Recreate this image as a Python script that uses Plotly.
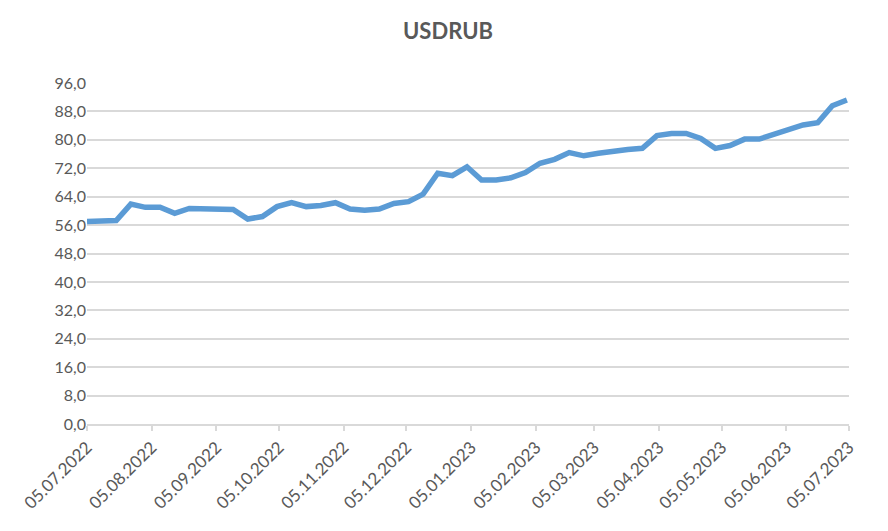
import pandas as pd
import plotly.graph_objects as go

# Weekly observation dates (x categories)
dates = pd.date_range("2022-07-05", periods=53, freq="7D")

usdrub = [57.0, 57.2, 57.3, 61.9, 61.0, 61.0, 59.3, 60.7, 60.7, 60.7,
          60.4, 57.7, 58.4, 61.2, 62.3, 61.2, 61.5, 62.3, 60.5, 60.2,
          60.5, 62.1, 62.6, 64.7, 70.6, 69.9, 72.4, 68.7, 68.7, 69.3,
          70.8, 73.4, 74.5, 76.4, 75.5, 76.2, 76.9, 77.3, 77.6, 81.2,
          81.8, 81.8, 80.4, 77.6, 78.4, 80.2, 80.2, 81.6, 82.8, 84.2,
          84.8, 89.6, 91.2]

x_ticks = ["2022-07-05", "2022-08-05", "2022-09-05", "2022-10-05", "2022-11-05",
           "2022-12-05", "2023-01-05", "2023-02-05", "2023-03-05", "2023-04-05",
           "2023-05-05", "2023-06-05", "2023-07-05"]
x_ticktext = ["05.07.2022", "05.08.2022", "05.09.2022", "05.10.2022", "05.11.2022",
              "05.12.2022", "05.01.2023", "05.02.2023", "05.03.2023", "05.04.2023",
              "05.05.2023", "05.06.2023", "05.07.2023"]
y_ticks = [0, 8, 16, 24, 32, 40, 48, 56, 64, 72, 80, 88, 96]

grey = "#595959"
font_family = "Lato, 'Open Sans', sans-serif"

fig = go.Figure()
fig.add_trace(go.Scatter(
    x=dates, y=usdrub, mode="lines",
    line=dict(color="#5B9BD5", width=5.5),
    name="USDRUB", showlegend=False,
))

fig.update_layout(
    width=880, height=523,
    margin=dict(l=76, r=39, t=75, b=107),
    paper_bgcolor="white", plot_bgcolor="white",
    separators=", ",
    font=dict(family=font_family, color=grey, size=16),
    title=dict(text="<b>USDRUB</b>", x=0.5, xanchor="center",
               y=1 - 23 / 523, yanchor="middle", yref="container",
               font=dict(family=font_family, size=22, color=grey)),
)

fig.update_xaxes(
    type="date",
    range=["2022-07-05", "2023-07-05"],
    tickvals=x_ticks, ticktext=x_ticktext,
    tickangle=-45,
    showgrid=False,
    showline=True, linecolor="#D9D9D9", linewidth=1.5,
    ticks="outside", ticklen=5, tickcolor="#D9D9D9", tickwidth=1.5,
    tickfont=dict(size=17, color=grey),
    zeroline=False,
)
fig.update_yaxes(
    range=[0, 96],
    tickvals=y_ticks, tickformat=".1f",
    showgrid=True, gridcolor="#D9D9D9", gridwidth=1.5,
    zeroline=False, showline=False,
    ticks="", tickfont=dict(size=16, color=grey),
)

fig.write_html("out.html")
